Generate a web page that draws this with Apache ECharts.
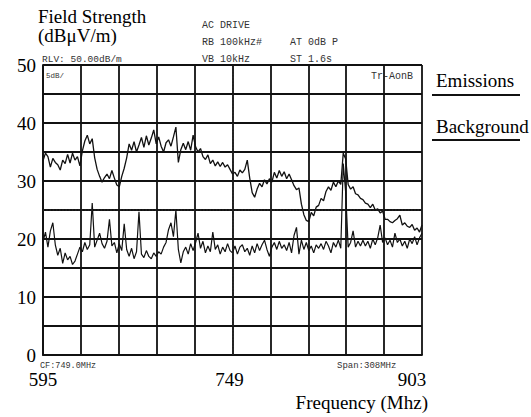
<!DOCTYPE html>
<html><head><meta charset="utf-8">
<script src="https://cdn.jsdelivr.net/npm/echarts@6/dist/echarts.min.js"></script>
<style>html,body{margin:0;padding:0;background:#fff}#c{width:531px;height:417px}</style>
</head><body><div id="c"></div>
<script>
const freqMHz = [
595,597,599,601,603,605,607,609,611,613,
615,617,619,621,623,625,627,629,631,633,
635,637,639,641,643,645,647,649,651,653,
655,657,659,661,663,665,667,669,671,673,
675,677,679,681,683,685,687,689,691,693,
695,697,699,701,703,705,707,709,711,713,
715,717,719,721,723,725,727,729,731,733,
735,737,739,741,743,745,747,749,751,753,
755,757,759,761,763,765,767,769,771,773,
775,777,779,781,783,785,787,789,791,793,
795,797,799,801,803,805,807,809,811,813,
815,817,819,821,823,825,827,829,831,833,
835,837,839,841,843,845,847,849,851,853,
855,857,859,861,863,865,867,869,871,873,
875,877,879,881,883,885,887,889,891,893,
895,897,899,901,903];

const emissions = [
33.5,34.8,34.2,32.4,33.9,33.2,32.8,31.9,33.6,33.0,
34.6,33.1,34.8,33.6,34.2,32.6,35.2,36.9,37.9,36.4,
37.3,34.0,32.0,30.8,29.8,30.6,31.2,30.4,31.8,30.5,
29.3,29.0,30.8,32.2,34.0,36.4,35.3,36.8,35.0,36.2,
37.5,35.8,37.8,36.2,37.4,38.8,36.4,37.6,36.0,35.0,
36.6,37.1,36.0,37.6,39.3,33.2,35.4,36.5,35.4,36.8,
35.3,37.9,35.9,35.0,35.6,34.2,33.7,34.5,33.0,33.6,
32.6,33.3,32.5,33.2,32.4,32.8,32.0,31.2,31.5,30.8,
31.9,31.4,32.0,33.6,30.5,28.0,27.2,28.6,29.6,29.0,
30.2,29.5,30.4,29.8,31.5,30.5,31.8,30.8,31.6,30.4,
31.2,30.2,29.2,28.5,28.8,26.0,24.2,23.2,23.0,24.6,
24.0,25.5,25.8,27.0,26.6,28.2,29.0,28.4,29.8,29.0,
30.0,29.4,34.8,33.8,29.4,28.6,29.0,27.8,27.6,27.0,
26.8,26.2,26.0,25.4,26.0,25.0,25.2,24.5,24.8,23.4,
23.4,23.0,22.8,23.2,23.5,24.1,22.4,22.8,22.2,22.0,
22.5,21.5,21.9,21.2,22.4];

const background = [
19.5,21.2,18.6,21.4,22.8,19.0,17.2,18.4,15.8,17.6,
16.4,17.0,15.6,16.2,17.4,18.6,17.8,19.4,18.2,19.0,
26.2,18.6,19.8,21.0,19.2,18.4,19.6,23.4,18.8,19.4,
17.6,19.2,18.0,22.6,18.2,17.0,18.4,16.6,17.8,24.7,
17.4,16.8,18.0,17.0,16.6,17.6,17.0,17.8,17.4,18.6,
19.4,21.6,22.8,20.4,25.0,18.2,15.9,17.8,18.6,17.4,
19.2,18.0,19.4,21.0,18.4,19.6,17.6,18.8,17.8,21.2,
18.2,19.0,17.4,18.6,17.8,19.2,18.0,17.6,18.8,17.4,
18.6,19.0,17.8,18.4,17.2,18.8,17.6,19.2,18.0,19.0,
19.8,18.2,17.0,18.6,19.4,18.2,19.6,18.4,19.0,18.0,
19.4,17.6,20.6,22.0,17.4,19.8,18.2,19.4,18.0,18.8,
17.6,19.0,18.4,19.2,18.2,19.6,18.8,17.6,19.4,18.6,
19.8,18.4,33.0,28.0,18.6,19.4,21.4,18.6,19.6,18.8,
19.8,18.8,19.6,18.4,20.0,19.0,20.2,22.4,19.4,20.2,
19.0,19.8,18.6,21.0,19.4,20.0,18.8,19.6,18.4,20.0,
19.2,20.4,19.0,20.2,21.0];

const yLabelValues = [0, 10, 20, 30, 40, 50];
const xTickLabels = ['595', '749', '903'];
const centerFreq = 749;
const midLevel = 25;

const serif = "'Liberation Serif', serif";
const mono = "'Liberation Mono', monospace";
const ink = '#111';

const chart = echarts.init(document.getElementById('c'), null, {renderer: 'svg'});

function smallText(text, x, y, size) {
  return {type: 'text', x: x, y: y, silent: true,
    style: {text: text, fill: '#333', fontFamily: mono, fontSize: size || 10, align: 'left', verticalAlign: 'middle'}};
}

const option = {
  animation: false,
  backgroundColor: '#fff',
  grid: {left: 43, right: 109, top: 65, bottom: 62},
  legend: {
    orient: 'vertical', left: 426, top: 65, icon: 'none', itemWidth: 0, itemHeight: 20, itemGap: 27,
    selectedMode: false,
    textStyle: {fontFamily: serif, fontSize: 19, color: '#000'},
    data: ['Emissions', 'Background']
  },
  xAxis: [
    {type: 'value', min: 595, max: 903, show: false},
    {type: 'value', min: 0, max: 10, interval: 1, position: 'bottom',
      axisLine: {show: true, lineStyle: {color: ink, width: 1.8}},
      axisTick: {show: false},
      splitLine: {show: true, lineStyle: {color: ink, width: 1.8}},
      axisLabel: {
        margin: 15, color: '#000', fontFamily: serif, fontSize: 19,
        formatter: function (v) {
          if (v === 0) return '{a|' + xTickLabels[0] + '}';
          if (v === 5) return '{b|' + xTickLabels[1] + '}';
          if (v === 10) return '{c|' + xTickLabels[2] + '}';
          return '';
        },
        rich: {
          a: {fontFamily: serif, fontSize: 19, color: '#000'},
          b: {fontFamily: serif, fontSize: 19, color: '#000', padding: [0, 6, 0, 0]},
          c: {fontFamily: serif, fontSize: 19, color: '#000', padding: [0, 20, 0, 0]}
        }
      },
      name: 'Frequency (Mhz)', nameLocation: 'end', nameGap: 6,
      nameTextStyle: {fontFamily: serif, fontSize: 19, color: '#000', align: 'right', verticalAlign: 'top', padding: [38, 0, 0, 0]}
    }
  ],
  yAxis: {
    type: 'value', min: 0, max: 50, interval: 5,
    axisLine: {show: true, lineStyle: {color: ink, width: 1.8}},
    axisTick: {show: false},
    splitLine: {show: true, lineStyle: {color: ink, width: 1.8}},
    axisLabel: {
      margin: 7, color: '#000', fontFamily: serif, fontSize: 19,
      formatter: function (v) { return yLabelValues.indexOf(v) >= 0 ? String(v) : ''; }
    }
  },
  series: [
    {name: 'Emissions', type: 'line', xAxisIndex: 0, showSymbol: false, symbol: 'none',
      lineStyle: {color: ink, width: 1.3}, itemStyle: {color: ink},
      data: freqMHz.map(function (f, i) { return [f, emissions[i]]; }),
      markLine: {silent: true, symbol: ['none', 'none'], label: {show: false},
        lineStyle: {color: '#222', type: 'dotted', width: 1.6},
        data: [{xAxis: centerFreq}, {yAxis: midLevel}]}
    },
    {name: 'Background', type: 'line', xAxisIndex: 0, showSymbol: false, symbol: 'none',
      lineStyle: {color: ink, width: 1.2}, itemStyle: {color: ink},
      data: freqMHz.map(function (f, i) { return [f, background[i]]; })
    }
  ],
  graphic: [
    {type: 'text', x: 38, y: 7, silent: true,
      style: {text: 'Field Strength\n(dBμV/m)', fill: '#000', fontFamily: serif, fontSize: 19, lineHeight: 19, align: 'left', verticalAlign: 'top'}},
    {type: 'line', silent: true, shape: {x1: 432, y1: 95, x2: 520, y2: 95}, style: {stroke: ink, lineWidth: 2}},
    {type: 'line', silent: true, shape: {x1: 432, y1: 140, x2: 520, y2: 140}, style: {stroke: ink, lineWidth: 2}},
    smallText('AC DRIVE', 202, 25),
    smallText('RB 100kHz#', 202, 42),
    smallText('AT 0dB P', 290, 42),
    smallText('VB 10kHz', 202, 59),
    smallText('ST 1.6s', 290, 59),
    smallText('RLV: 50.00dB/m', 42, 59, 9.5),
    smallText('5dB/', 46, 76, 7.5),
    smallText('Tr-AonB', 371, 76),
    smallText('CF:749.0MHz', 40, 366, 8.5),
    smallText('Span:308MHz', 337, 366, 9)
  ]
};
chart.setOption(option);
</script>
</body></html>
